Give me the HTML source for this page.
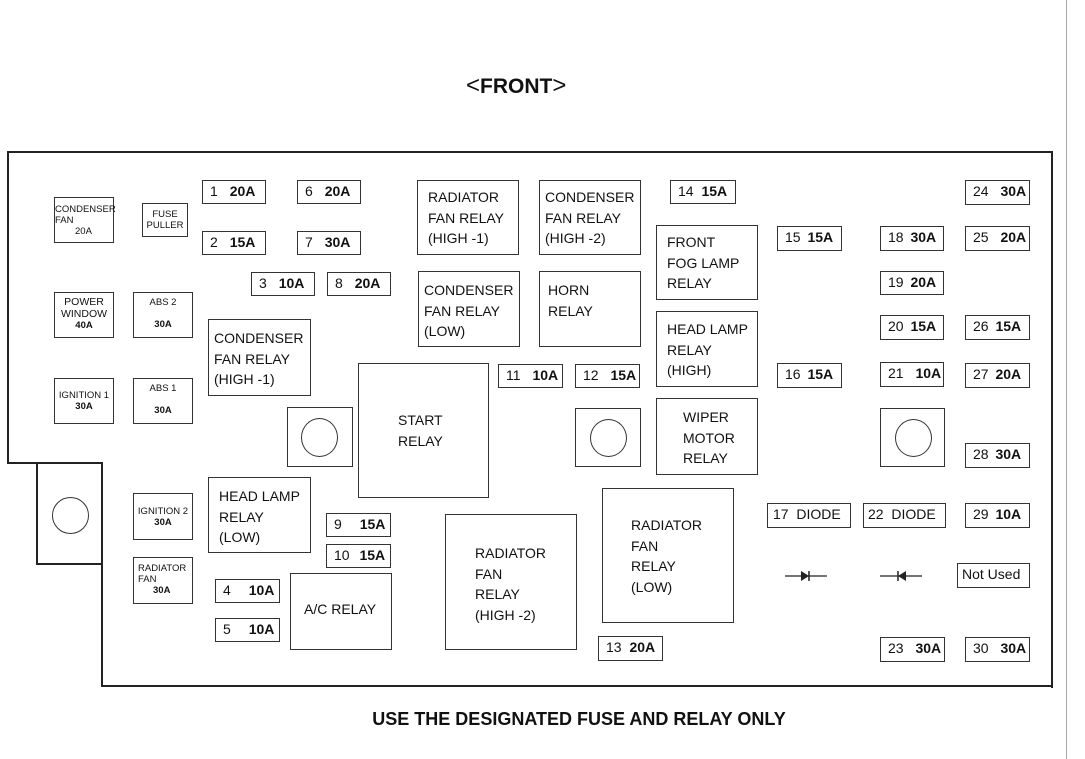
<!DOCTYPE html>
<html><head><meta charset="utf-8"><style>
body{margin:0;background:#fff;width:1085px;height:759px;position:relative;overflow:hidden;font-family:"Liberation Sans",Arial,sans-serif;color:#111}
.b{position:absolute;border:1.3px solid #333;box-sizing:border-box;background:#fff}
.f{font-size:14px;line-height:20px;padding-left:7px;white-space:nowrap}
.f b{margin-left:8px}
.r{font-size:14px;line-height:20.5px;padding-left:10px;white-space:nowrap}
.s{font-size:9.5px;line-height:11px;text-align:center;white-space:nowrap}
.s b{font-size:9.5px}
.l{position:absolute;background:#222}
.c{position:absolute;border:1.3px solid #333;border-radius:50%;box-sizing:border-box}
</style></head><body>
<div style="position:absolute;left:466px;top:72px;font-size:21px;font-weight:bold"><span style="font-weight:normal;font-size:24px">&lt;</span>FRONT<span style="font-weight:normal;font-size:24px">&gt;</span></div>
<div style="position:absolute;left:0;width:1158px;top:709px;text-align:center;font-size:18px;font-weight:bold">USE THE DESIGNATED FUSE AND RELAY ONLY</div>
<div class="l" style="left:1066px;top:0;width:1px;height:759px;background:#aaa"></div>
<!-- outline -->
<div class="l" style="left:7px;top:151px;width:1046px;height:2px"></div>
<div class="l" style="left:1051px;top:151px;width:2px;height:537px"></div>
<div class="l" style="left:101px;top:685px;width:952px;height:2px"></div>
<div class="l" style="left:7px;top:151px;width:2px;height:313px"></div>
<div class="l" style="left:7px;top:462px;width:96px;height:2px"></div>
<div class="l" style="left:36px;top:462px;width:2px;height:103px"></div>
<div class="l" style="left:36px;top:563px;width:67px;height:2px"></div>
<div class="l" style="left:101px;top:462px;width:2px;height:225px"></div>
<div class="c" style="left:52px;top:497px;width:37px;height:37px;border-width:1.6px"></div>
<!-- small boxes -->
<div class="b s" style="left:54px;top:197px;width:60px;height:46px;text-align:left;padding-top:6px">CONDENSER<br>FAN<br><span style="padding-left:20px">20A</span></div>
<div class="b s" style="left:142px;top:203px;width:46px;height:34px;padding-top:5px">FUSE<br>PULLER</div>
<div class="b s" style="left:54px;top:292px;width:60px;height:46px;padding-top:4px;font-size:10.5px;line-height:11.5px">POWER<br>WINDOW<br><b>40A</b></div>
<div class="b s" style="left:133px;top:292px;width:60px;height:46px;padding-top:4px">ABS 2<br><br><b>30A</b></div>
<div class="b s" style="left:54px;top:378px;width:60px;height:46px;padding-top:11px">IGNITION 1<br><b>30A</b></div>
<div class="b s" style="left:133px;top:378px;width:60px;height:46px;padding-top:4px">ABS 1<br><br><b>30A</b></div>
<div class="b s" style="left:133px;top:493px;width:60px;height:47px;padding-top:12px">IGNITION 2<br><b>30A</b></div>
<div class="b s" style="left:133px;top:557px;width:60px;height:47px;padding-top:5px;text-align:left;padding-left:4px">RADIATOR<br>FAN<br><b style="padding-left:15px">30A</b></div>
<!-- fuses -->
<div class="b f" style="left:202px;top:180px;width:64px;height:24px">1 <b>20A</b></div>
<div class="b f" style="left:297px;top:180px;width:64px;height:24px">6 <b>20A</b></div>
<div class="b f" style="left:202px;top:231px;width:64px;height:24px">2 <b>15A</b></div>
<div class="b f" style="left:297px;top:231px;width:64px;height:24px">7 <b>30A</b></div>
<div class="b f" style="left:251px;top:272px;width:64px;height:24px">3 <b>10A</b></div>
<div class="b f" style="left:327px;top:272px;width:64px;height:24px">8 <b>20A</b></div>
<div class="b f" style="left:498px;top:364px;width:65px;height:24px">11 <b>10A</b></div>
<div class="b f" style="left:575px;top:364px;width:65px;height:24px">12 <b>15A</b></div>
<div class="b f" style="left:670px;top:180px;width:66px;height:24px">14 <b style="margin-left:4px">15A</b></div>
<div class="b f" style="left:777px;top:226px;width:65px;height:25px">15 <b style="margin-left:3px">15A</b></div>
<div class="b f" style="left:777px;top:363px;width:65px;height:25px">16 <b style="margin-left:3px">15A</b></div>
<div class="b f" style="left:880px;top:226px;width:64px;height:25px">18 <b style="margin-left:3px">30A</b></div>
<div class="b f" style="left:880px;top:271px;width:64px;height:24px">19 <b style="margin-left:3px">20A</b></div>
<div class="b f" style="left:880px;top:315px;width:64px;height:25px">20 <b style="margin-left:3px">15A</b></div>
<div class="b f" style="left:880px;top:362px;width:64px;height:25px">21 <b>10A</b></div>
<div class="b f" style="left:965px;top:180px;width:65px;height:25px">24 <b>30A</b></div>
<div class="b f" style="left:965px;top:226px;width:65px;height:25px">25 <b>20A</b></div>
<div class="b f" style="left:965px;top:315px;width:65px;height:25px">26 <b style="margin-left:3px">15A</b></div>
<div class="b f" style="left:965px;top:363px;width:65px;height:25px">27 <b style="margin-left:3px">20A</b></div>
<div class="b f" style="left:965px;top:443px;width:65px;height:25px">28 <b style="margin-left:3px">30A</b></div>
<div class="b f" style="left:965px;top:503px;width:65px;height:25px">29 <b style="margin-left:3px">10A</b></div>
<div class="b f" style="left:957px;top:563px;width:73px;height:25px;padding-left:4px">Not Used</div>
<div class="b f" style="left:880px;top:637px;width:65px;height:25px">23 <b>30A</b></div>
<div class="b f" style="left:965px;top:637px;width:65px;height:25px">30 <b>30A</b></div>
<div class="b f" style="left:767px;top:503px;width:84px;height:25px;padding-left:5px">17 &nbsp;DIODE</div>
<div class="b f" style="left:863px;top:503px;width:83px;height:25px;padding-left:4px">22 &nbsp;DIODE</div>
<div class="b f" style="left:326px;top:513px;width:65px;height:24px">9 <b style="margin-left:14px">15A</b></div>
<div class="b f" style="left:326px;top:544px;width:65px;height:24px">10 <b style="margin-left:6px">15A</b></div>
<div class="b f" style="left:215px;top:579px;width:65px;height:24px">4 <b style="margin-left:14px">10A</b></div>
<div class="b f" style="left:215px;top:618px;width:65px;height:24px">5 <b style="margin-left:14px">10A</b></div>
<div class="b f" style="left:598px;top:636px;width:65px;height:25px">13 <b style="margin-left:4px">20A</b></div>
<!-- diodes -->
<svg style="position:absolute;left:780px;top:568px" width="150" height="16">
<line x1="5" y1="8" x2="47" y2="8" stroke="#222" stroke-width="1.2"/>
<polygon points="21,3 21,13 29,8" fill="#222"/><line x1="29" y1="3" x2="29" y2="13" stroke="#222" stroke-width="1.5"/>
<line x1="100" y1="8" x2="142" y2="8" stroke="#222" stroke-width="1.2"/>
<polygon points="126,3 126,13 118,8" fill="#222"/><line x1="118" y1="3" x2="118" y2="13" stroke="#222" stroke-width="1.5"/>
</svg>
<!-- relays -->
<div class="b r" style="left:417px;top:180px;width:102px;height:75px;padding-top:6px">RADIATOR<br>FAN RELAY<br>(HIGH -1)</div>
<div class="b r" style="left:539px;top:180px;width:102px;height:75px;padding-top:6px;padding-left:5px">CONDENSER<br>FAN RELAY<br>(HIGH -2)</div>
<div class="b r" style="left:418px;top:271px;width:102px;height:76px;padding-top:8px;padding-left:5px">CONDENSER<br>FAN RELAY<br>(LOW)</div>
<div class="b r" style="left:539px;top:271px;width:102px;height:76px;padding-top:8px;padding-left:8px">HORN<br>RELAY</div>
<div class="b r" style="left:208px;top:319px;width:103px;height:77px;padding-top:8px;padding-left:5px">CONDENSER<br>FAN RELAY<br>(HIGH -1)</div>
<div class="b r" style="left:656px;top:225px;width:102px;height:75px;padding-top:6px">FRONT<br>FOG LAMP<br>RELAY</div>
<div class="b r" style="left:656px;top:311px;width:102px;height:76px;padding-top:7px">HEAD LAMP<br>RELAY<br>(HIGH)</div>
<div class="b r" style="left:656px;top:398px;width:102px;height:77px;padding-top:8px;padding-left:26px">WIPER<br>MOTOR<br>RELAY</div>
<div class="b r" style="left:358px;top:363px;width:131px;height:135px;padding-top:46px;padding-left:39px">START<br>RELAY</div>
<div class="b r" style="left:208px;top:477px;width:103px;height:76px;padding-top:8px">HEAD LAMP<br>RELAY<br>(LOW)</div>
<div class="b r" style="left:290px;top:573px;width:102px;height:77px;padding-top:25px;padding-left:13px">A/C RELAY</div>
<div class="b r" style="left:445px;top:514px;width:132px;height:136px;padding-top:28px;padding-left:29px">RADIATOR<br>FAN<br>RELAY<br>(HIGH -2)</div>
<div class="b r" style="left:602px;top:488px;width:132px;height:135px;padding-top:26px;padding-left:28px">RADIATOR<br>FAN<br>RELAY<br>(LOW)</div>
<!-- circle boxes -->
<div class="b" style="left:287px;top:407px;width:66px;height:60px"><div class="c" style="left:13px;top:10px;width:37px;height:39px"></div></div>
<div class="b" style="left:575px;top:408px;width:66px;height:59px"><div class="c" style="left:14px;top:10px;width:37px;height:38px"></div></div>
<div class="b" style="left:880px;top:408px;width:65px;height:59px"><div class="c" style="left:14px;top:10px;width:37px;height:38px"></div></div>
</body></html>
